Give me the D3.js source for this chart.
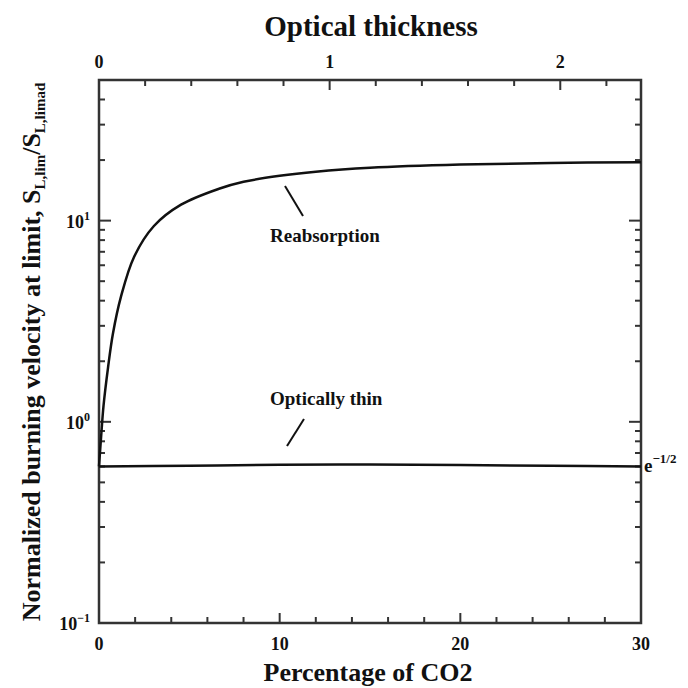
<!DOCTYPE html>
<html>
<head>
<meta charset="utf-8">
<script src="https://cdn.jsdelivr.net/npm/d3@7"></script>
<style>
  html, body { margin: 0; padding: 0; background: #fff; }
  svg { display: block; font-family: "Liberation Serif", "DejaVu Serif", serif; font-weight: bold; }
</style>
</head>
<body>
<svg id="chart" width="688" height="688"></svg>
<script>
// CO2 percentage (x) and normalized burning velocity at the limit (y)
const co2Reabsorption = [0, 0.12, 0.25, 0.5, 0.77, 1.22, 1.94, 3.04, 4.54, 6.64, 8, 10, 12, 15, 20, 25, 30];
const reabsorption    = [0.6, 0.85, 1.2, 1.86, 2.74, 4.2, 6.6, 9.4, 12.0, 14.4, 15.6, 16.7, 17.5, 18.3, 19.0, 19.35, 19.5];
const co2Thin         = [0, 5, 10, 15, 20, 25, 30];
const opticallyThin   = [0.6, 0.605, 0.612, 0.613, 0.61, 0.605, 0.6];

const bottomTicks = [0, 10, 20, 30];
const topTicks = [0, 1, 2];
const leftTicks = [{v: 10, e: "1"}, {v: 1, e: "0"}, {v: 0.1, e: "\u22121"}];
const eHalf = Math.exp(-0.5);

const svg = d3.select("#chart");
const m = {left: 99, right: 641, top: 80, bottom: 623};

const x = d3.scaleLinear().domain([0, 30]).range([m.left, m.right]);
// optical thickness is proportional to CO2 content
const xTop = d3.scaleLinear().domain([0, 2.35]).range([m.left, m.right]);
const y = d3.scaleLog().domain([0.1, 50]).range([m.bottom, m.top]);

const ink = "#111";
const frameColor = "#333";

// tick marks (drawn inward)
const g = svg.append("g");
function tick(x1, y1, x2, y2, w) {
  g.append("line").attr("x1", x1).attr("y1", y1).attr("x2", x2).attr("y2", y2)
    .attr("stroke", frameColor).attr("stroke-width", w || 2);
}
d3.range(0, 31, 2).forEach(v => {
  const major = v % 10 === 0;
  const len = major ? 10 : 6;
  tick(x(v), m.bottom, x(v), m.bottom - len);
});
d3.range(0, 2.35, 0.2).forEach(v => {
  const major = Math.abs(v - Math.round(v)) < 1e-6;
  const len = major ? 10 : 6;
  tick(xTop(v), m.top, xTop(v), m.top + len);
});
[0.1, 1, 10].forEach(d => {
  for (let k = 1; k <= 9; k++) {
    const v = d * k;
    if (v > 50 || (d === 10 && k > 5)) continue;
    const len = k === 1 ? 12 : 6;
    tick(m.left, y(v), m.left + len, y(v));
    tick(m.right, y(v), m.right - len, y(v));
  }
});

// frame
svg.append("rect").attr("x", m.left).attr("y", m.top)
  .attr("width", m.right - m.left).attr("height", m.bottom - m.top)
  .attr("fill", "none").attr("stroke", frameColor).attr("stroke-width", 2.5);

// curves
const line = d3.line().x(d => x(d[0])).y(d => y(d[1])).curve(d3.curveCatmullRom.alpha(0.5));
svg.append("path")
  .datum(co2Reabsorption.map((c, i) => [c, reabsorption[i]]))
  .attr("d", line).attr("fill", "none").attr("stroke", ink).attr("stroke-width", 2.5);
svg.append("path")
  .datum(co2Thin.map((c, i) => [c, opticallyThin[i]]))
  .attr("d", line).attr("fill", "none").attr("stroke", ink).attr("stroke-width", 2.5);

// tick labels
const labelSize = 18;
bottomTicks.forEach(v => {
  svg.append("text").attr("x", x(v)).attr("y", 650).attr("text-anchor", "middle")
    .attr("font-size", labelSize).attr("fill", ink).text(v);
});
topTicks.forEach(v => {
  svg.append("text").attr("x", xTop(v)).attr("y", 68).attr("text-anchor", "middle")
    .attr("font-size", labelSize).attr("fill", ink).text(v);
});
leftTicks.forEach(t => {
  const tx = svg.append("text").attr("x", 90).attr("y", y(t.v) + 7).attr("text-anchor", "end")
    .attr("font-size", labelSize).attr("fill", ink);
  tx.append("tspan").text("10");
  tx.append("tspan").attr("dy", -8).attr("font-size", 12).text(t.e);
});
// e^-1/2 marker on the right axis
const eLab = svg.append("text").attr("x", 644).attr("y", y(eHalf) + 7)
  .attr("font-size", 19).attr("fill", ink);
eLab.append("tspan").text("e");
eLab.append("tspan").attr("dy", -9).attr("font-size", 13).text("\u22121/2");

// axis titles
svg.append("text").attr("x", 371).attr("y", 36).attr("text-anchor", "middle")
  .attr("font-size", 29).attr("fill", ink).text("Optical  thickness");
svg.append("text").attr("x", 368).attr("y", 681).attr("text-anchor", "middle")
  .attr("font-size", 26).attr("fill", ink).text("Percentage  of  CO2");

const yt = svg.append("text").attr("transform", "translate(40,352) rotate(-90)")
  .attr("text-anchor", "middle").attr("font-size", 26).attr("fill", ink);
yt.append("tspan").text("Normalized  burning  velocity  at  limit,  S");
yt.append("tspan").attr("dy", 5).attr("font-size", 15).text("L,lim");
yt.append("tspan").attr("dy", -5).text("/S");
yt.append("tspan").attr("dy", 5).attr("font-size", 15).text("L,limad");

// annotations
svg.append("line").attr("x1", 285).attr("y1", 186).attr("x2", 303).attr("y2", 216)
  .attr("stroke", ink).attr("stroke-width", 2);
svg.append("text").attr("x", 270).attr("y", 242).attr("font-size", 19).attr("fill", ink)
  .text("Reabsorption");
svg.append("line").attr("x1", 304).attr("y1", 419).attr("x2", 287).attr("y2", 446)
  .attr("stroke", ink).attr("stroke-width", 2);
svg.append("text").attr("x", 270).attr("y", 405).attr("font-size", 19).attr("fill", ink)
  .text("Optically  thin");
</script>
</body>
</html>
